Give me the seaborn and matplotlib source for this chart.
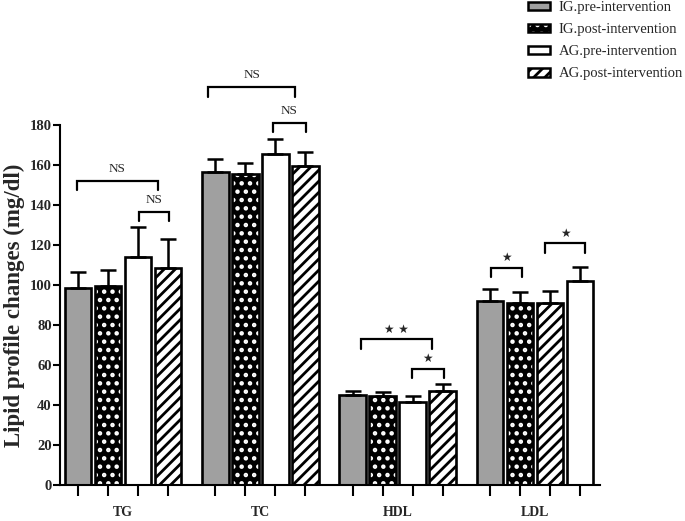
import numpy as np
import pandas as pd
import seaborn as sns
import matplotlib
matplotlib.use("Agg")
import matplotlib.pyplot as plt
from matplotlib.patches import Rectangle
from matplotlib.legend_handler import HandlerTuple

# ---------------- data ----------------
groups = ["TG", "TC", "HDL", "LDL"]
series = ["IG.pre-intervention", "IG.post-intervention",
          "AG.pre-intervention", "AG.post-intervention"]
ig_pre = [98.7, 156.7, 45.0, 92.2]
ig_post = [99.7, 155.7, 44.7, 90.8]
ag_pre = [114.2, 165.5, 41.7, 101.8]
ag_post = [108.3, 159.7, 47.2, 90.8]
ig_pre_sd = [8.0, 6.1, 2.2, 5.6]
ig_post_sd = [7.8, 5.5, 2.0, 5.7]
ag_pre_sd = [15.0, 7.3, 3.0, 7.4]
ag_post_sd = [14.5, 7.0, 3.3, 6.0]
# bar order inside each group (index into series)
slot_order = [[0, 1, 2, 3], [0, 1, 2, 3], [0, 1, 2, 3], [0, 1, 3, 2]]

# significance brackets: group, left offset, right offset, height, label
br_group = [0, 0, 1, 1, 2, 2, 3, 3]
br_x0 = [-0.339, 0.117, -0.379, 0.092, -0.270, 0.102, -0.322, 0.077]
br_x1 = [0.250, 0.333, 0.252, 0.332, 0.248, 0.335, -0.094, 0.366]
br_y = [152.0, 136.7, 198.8, 181.0, 72.8, 58.0, 108.7, 120.8]
br_label = ["NS", "NS", "NS", "NS", "★ ★", "★", "★", "★"]

# ---------------- table ----------------
vals = [ig_pre, ig_post, ag_pre, ag_post]
sds = [ig_pre_sd, ig_post_sd, ag_pre_sd, ag_post_sd]
rows = []
for gi, g in enumerate(groups):
    for slot, si in enumerate(slot_order[gi]):
        rows.append(dict(group=g, slot=str(slot), series=series[si],
                         value=vals[si][gi], sd=sds[si][gi]))
df = pd.DataFrame(rows)

styles = {
    series[0]: dict(face="#a0a0a0", hatch=None, hcol=None),
    series[1]: dict(face="black", hatch="..", hcol="white"),
    series[2]: dict(face="white", hatch=None, hcol=None),
    series[3]: dict(face="white", hatch="///", hcol="black"),
}

sns.set_style("ticks")
plt.rcParams["font.family"] = ["Liberation Serif", "DejaVu Sans"]
plt.rcParams["hatch.linewidth"] = 2.0

fig = plt.figure(figsize=(6.85, 5.21), dpi=100)
ax = fig.add_axes([60 / 685, 36 / 521, 540 / 685, 360 / 521])

WIDTH = 0.874
sns.barplot(data=df, x="group", y="value", hue="slot",
            hue_order=["0", "1", "2", "3"], order=groups,
            width=WIDTH, gap=0.12, errorbar=None, legend=False, ax=ax,
            linewidth=0)

slot_w = WIDTH / 4
bar_patches = [p for p in ax.patches if isinstance(p, Rectangle) and p.get_height() > 0]
centers = []
for p in bar_patches:
    cx = p.get_x() + p.get_width() / 2
    gi = int(round(cx))
    slot = int(round((cx - gi) / slot_w + 1.5))
    row = df[(df.group == groups[gi]) & (df.slot == str(slot))].iloc[0]
    st = styles[row.series]
    p.set_facecolor(st["face"])
    if st["hatch"]:
        p.set_hatch(st["hatch"])
        p.set_edgecolor(st["hcol"])
    else:
        p.set_edgecolor("black")
    p.set_linewidth(0)
    # outline
    ax.add_patch(Rectangle((p.get_x(), p.get_y()), p.get_width(), p.get_height(),
                           fill=False, edgecolor="black", linewidth=1.9, zorder=3))
    ax.errorbar(cx, row.value, yerr=[[0], [row.sd]], fmt="none",
                ecolor="black", elinewidth=1.8, capsize=5.5, capthick=1.8, zorder=2)
    centers.append(cx)

# axes styling
ax.set_xlim(-0.461, 3.475)
ax.set_ylim(0, 180)
ax.set_yticks(np.arange(0, 181, 20))
ax.set_xticks(sorted(centers))
ax.set_xticklabels([])
ax.set_xticks(range(len(groups)), minor=True)
ax.set_xticklabels(groups, minor=True, fontweight="bold", fontsize=10)
ax.tick_params(axis="x", which="minor", length=0, pad=15)
ax.tick_params(axis="x", which="major", length=8, width=1.5, color="black")
ax.tick_params(axis="y", length=5, width=1.5, color="black", labelsize=10.5, pad=1)
for lab in ax.get_yticklabels():
    lab.set_fontweight("bold")
ax.set_xlabel("")
ax.set_ylabel("Lipid profile changes (mg/dl)", fontsize=16.5, fontweight="bold", labelpad=3)
sns.despine(ax=ax)
for s in ["left", "bottom"]:
    ax.spines[s].set_linewidth(1.5)
    ax.spines[s].set_color("black")

# significance brackets
leg = 4.7
for g, x0, x1, y, lab in zip(br_group, br_x0, br_x1, br_y, br_label):
    xa, xb = g + x0, g + x1
    ax.plot([xa, xa, xb, xb], [y - leg, y, y, y - leg], color="black",
            lw=1.6, clip_on=False, solid_joinstyle="miter")
    if lab == "NS":
        ax.text((xa + xb) / 2, y + 6.0, lab, ha="center", va="center",
                fontsize=9.5, clip_on=False)
    else:
        ax.text((xa + xb) / 2, y + 5.2, lab, ha="center", va="center",
                fontsize=8.5, family=["DejaVu Sans"], clip_on=False)

# legend
handles = []
for s in series:
    st = styles[s]
    if st["hatch"]:
        h = (Rectangle((0, 0), 1, 1, facecolor=st["face"], edgecolor=st["hcol"],
                       hatch=st["hatch"], linewidth=0),
             Rectangle((0, 0), 1, 1, fill=False, edgecolor="black", linewidth=1.8))
    else:
        h = Rectangle((0, 0), 1, 1, facecolor=st["face"], edgecolor="black", linewidth=1.8)
    handles.append(h)
lg = fig.legend(handles, series, loc="upper left", bbox_to_anchor=(522 / 685, 1.009),
                frameon=False, fontsize=10.5, handlelength=1.5, handleheight=0.55,
                labelspacing=0.62, handletextpad=0.6, borderaxespad=0,
                handler_map={tuple: HandlerTuple(ndivide=1, pad=0)})

fig.savefig("out.png", dpi=100)
